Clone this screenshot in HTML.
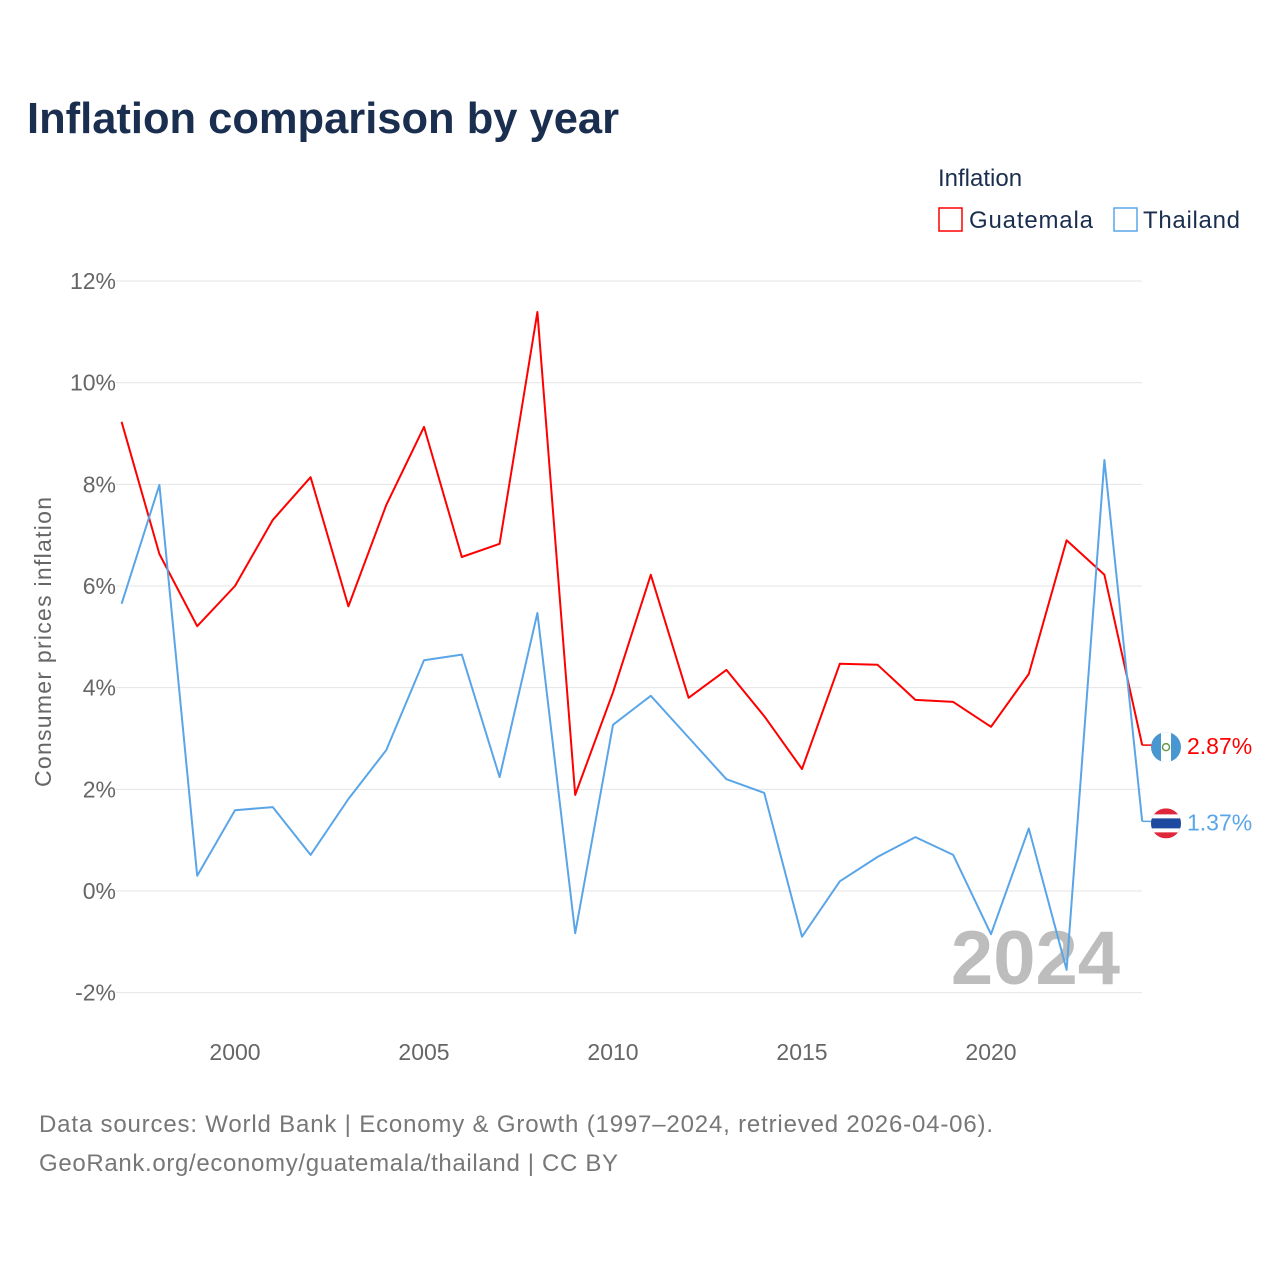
<!DOCTYPE html>
<html><head><meta charset="utf-8"><style>
body{margin:0;background:#fff;font-family:"Liberation Sans",sans-serif;}
svg text{font-family:"Liberation Sans",sans-serif;}
</style></head><body>
<svg id="chart" width="1280" height="1280" viewBox="0 0 1280 1280" xmlns="http://www.w3.org/2000/svg">
<defs>
<clipPath id="clipG"><circle cx="1166" cy="744" r="15"/></clipPath>
<clipPath id="clipT"><circle cx="1166" cy="821" r="15"/></clipPath>
</defs>
<rect width="1280" height="1280" fill="#fff"/>
<text x="27" y="133" font-size="44" font-weight="bold" fill="#1a2e4f" textLength="592" lengthAdjust="spacingAndGlyphs">Inflation comparison by year</text>
<g>
<text x="938" y="186" font-size="24" fill="#1a2e4f">Inflation</text>
<g><rect x="939" y="208" width="23" height="23" fill="none" stroke="#ff0000" stroke-width="1.5"/><text x="969" y="228" font-size="24" fill="#1a2e4f" textLength="124">Guatemala</text></g>
<g><rect x="1114" y="208" width="23" height="23" fill="none" stroke="#5aa5e8" stroke-width="1.5"/><text x="1143" y="228" font-size="24" fill="#1a2e4f" textLength="97">Thailand</text></g>
</g>
<g id="grid"></g>
<g id="yticks"></g>
<g id="xticks"></g>
<text transform="translate(51,642) rotate(-90)" text-anchor="middle" font-size="23" fill="#666" textLength="290">Consumer prices inflation</text>
<text x="1120" y="984" text-anchor="end" font-size="76" font-weight="bold" fill="#bdbdbd">2024</text>
<g id="series"></g>
<text x="39" y="1132" font-size="24" fill="#777" textLength="954">Data sources: World Bank | Economy &amp; Growth (1997–2024, retrieved 2026-04-06).</text>
<text x="39" y="1171" font-size="24" fill="#777" textLength="579">GeoRank.org/economy/guatemala/thailand | CC BY</text>
</svg>
<script>
const years=[1997,1998,1999,2000,2001,2002,2003,2004,2005,2006,2007,2008,2009,2010,2011,2012,2013,2014,2015,2016,2017,2018,2019,2020,2021,2022,2023,2024];
const guatemala=[9.23,6.63,5.21,6.0,7.3,8.14,5.6,7.59,9.13,6.57,6.83,11.39,1.89,3.91,6.22,3.8,4.35,3.44,2.4,4.47,4.45,3.76,3.72,3.23,4.27,6.9,6.22,2.87];
const thailand=[5.65,7.99,0.3,1.59,1.65,0.71,1.81,2.77,4.54,4.65,2.24,5.47,-0.83,3.27,3.84,3.02,2.2,1.93,-0.9,0.19,0.67,1.06,0.71,-0.85,1.23,-1.55,8.48,1.37];
const yTicks=[-2,0,2,4,6,8,10,12];
const xTicks=[2000,2005,2010,2015,2020];
const NS='http://www.w3.org/2000/svg';
const x=v=>121.6+(v-1997)*37.8;
const y=v=>891-v*50.83;
function mk(t,a,p){const e=document.createElementNS(NS,t);for(const k in a)e.setAttribute(k,a[k]);p.appendChild(e);return e;}
const grid=document.getElementById('grid'),yt=document.getElementById('yticks'),xt=document.getElementById('xticks'),ser=document.getElementById('series');
yTicks.forEach(v=>{
 const l=mk('line',{x1:116,x2:1142,y1:y(v),y2:y(v),stroke:'#e4e4e4','stroke-width':1},grid);
 
 
 const t=mk('text',{x:116,y:y(v)+8,'text-anchor':'end','font-size':23,fill:'#666'},yt);
 t.textContent=v+'%';
 
 
});
xTicks.forEach(v=>{
 const t=mk('text',{x:x(v),y:1060,'text-anchor':'middle','font-size':23,fill:'#666'},xt);
 t.textContent=v;
 
 
});
function line(vals,color,name){
 const d=vals.map((v,i)=>(i?'L':'M')+x(years[i]).toFixed(1)+','+y(v).toFixed(1)).join('');
 const p=mk('path',{d:d,fill:'none',stroke:color,'stroke-width':2,'stroke-linejoin':'round'},ser);
 
 
 const last=vals[vals.length-1],ly=y(last);
 const c=mk('line',{x1:x(2024),x2:1152,y1:ly,y2:ly,stroke:color,'stroke-width':1.5},ser);
 
 
 const g=mk('g',{},ser);
 
 
 const cy=ly+2;
 if(name==='guatemala'){
  const cl=document.getElementById('clipG').firstElementChild; cl.setAttribute('cy',cy);
  g.setAttribute('clip-path','url(#clipG)');
  mk('rect',{x:1151,y:cy-15,width:30,height:30,fill:'#4997d0'},g);
  mk('rect',{x:1161,y:cy-15,width:10,height:30,fill:'#fff'},g);
  mk('circle',{cx:1166,cy:cy,r:3.5,fill:'none',stroke:'#6a9a4a','stroke-width':1.5},g);
 } else {
  const cl=document.getElementById('clipT').firstElementChild; cl.setAttribute('cy',cy);
  g.setAttribute('clip-path','url(#clipT)');
  mk('rect',{x:1151,y:cy-15,width:30,height:30,fill:'#e0263a'},g);
  mk('rect',{x:1151,y:cy-9,width:30,height:18,fill:'#fff'},g);
  mk('rect',{x:1151,y:cy-5,width:30,height:10,fill:'#1e4aa0'},g);
 }
 const t=mk('text',{x:1187,y:ly+9,'font-size':23,fill:color},ser);
 t.textContent=last.toFixed(2)+'%';
 
 
}
line(guatemala,'#ff0000','guatemala');
line(thailand,'#5aa5e8','thailand');
</script>
</body></html>
